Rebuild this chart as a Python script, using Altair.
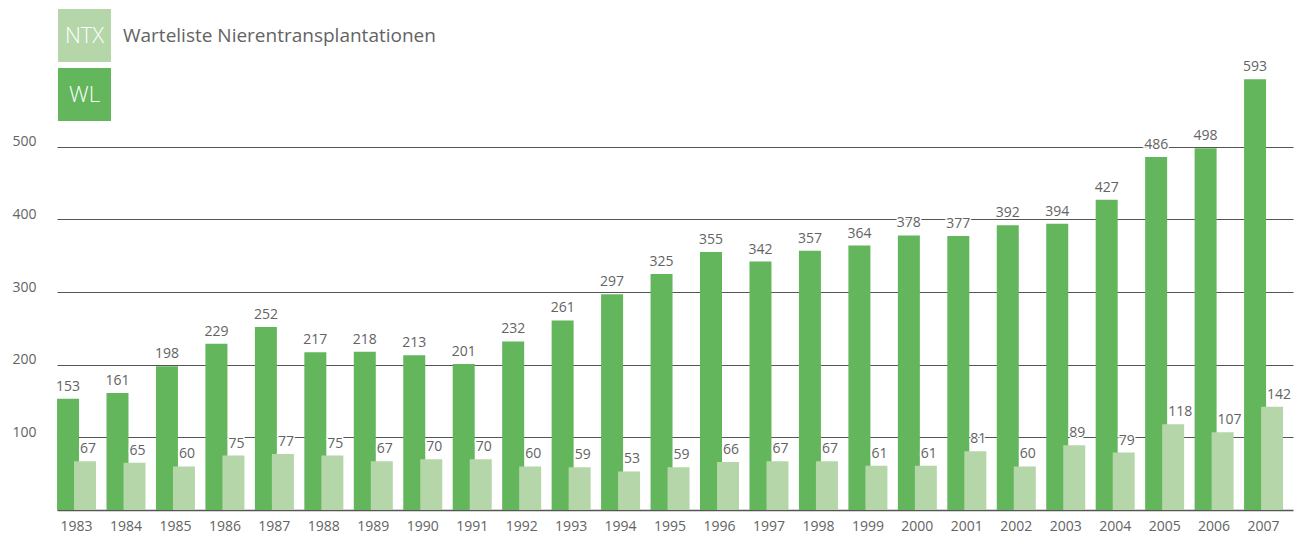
import altair as alt
import pandas as pd

years = [str(y) for y in range(1983, 2008)]
wl = [153, 161, 198, 229, 252, 217, 218, 213, 201, 232, 261, 297, 325, 355, 342,
      357, 364, 378, 377, 392, 394, 427, 486, 498, 593]
ntx = [67, 65, 60, 75, 77, 75, 67, 70, 70, 60, 59, 53, 59, 66, 67, 67, 61, 61,
       81, 60, 89, 79, 118, 107, 142]
y_ticks = [100, 200, 300, 400, 500]
title_text = "Warteliste Nierentransplantationen"
legend_labels = ["NTX", "WL"]

DARK = "#63b65c"
LIGHT = "#b4d6a8"
TXT = "#636363"
GRID = "#555555"
FONT = "Open Sans"

df = pd.DataFrame({"year": years, "WL": wl, "NTX": ntx})

xs = alt.Scale(paddingInner=0.21, paddingOuter=0.1, align=0)
ys = alt.Scale(domain=[0, 691], nice=False)

xenc = alt.X("year:N", scale=xs, sort=years,
             axis=alt.Axis(title=None, labelAngle=0, ticks=False, domainColor=GRID,
                           domainWidth=1.5, labelFontSize=14, labelColor=TXT,
                           labelFont=FONT, labelPadding=9, grid=False))

base = alt.Chart(df)

dark = base.mark_bar(width=22, xOffset=-8.5, color=DARK).encode(
    x=xenc,
    y=alt.Y("WL:Q", scale=ys,
            axis=alt.Axis(title=None, values=y_ticks, grid=True, gridColor=GRID,
                          gridWidth=1, domain=False, ticks=False, labelPadding=21,
                          labelFontSize=14, labelColor=TXT, labelFont=FONT,
                          labelOffset=-5)),
)
light = base.mark_bar(width=22, xOffset=8.5, color=LIGHT).encode(
    x=alt.X("year:N", sort=years), y=alt.Y("NTX:Q"))

def labels(field, off, align):
    enc = dict(x=alt.X("year:N", sort=years), y=alt.Y(f"{field}:Q"),
               text=alt.Text(f"{field}:Q"))
    halo = base.mark_text(xOffset=off, dy=-5, baseline="bottom", align=align,
                          fontSize=14, font=FONT, color="white", stroke="white",
                          strokeWidth=3).encode(**enc)
    txt = base.mark_text(xOffset=off, dy=-5, baseline="bottom", align=align,
                         fontSize=14, font=FONT, color=TXT).encode(**enc)
    return halo + txt

one = alt.Data(values=[{"a": 1}])
box_ntx = alt.Chart(one).mark_rect(color=LIGHT).encode(
    x=alt.value(1), x2=alt.value(54), y=alt.value(1), y2=alt.value(54))
box_wl = alt.Chart(one).mark_rect(color=DARK).encode(
    x=alt.value(1), x2=alt.value(54), y=alt.value(60), y2=alt.value(113))
t_ntx = alt.Chart(pd.DataFrame({"t": [legend_labels[0]]})).mark_text(
    color="white", fontSize=22, font=FONT, fontWeight=300, align="center",
    baseline="middle").encode(x=alt.value(27.5), y=alt.value(28), text="t:N")
t_wl = alt.Chart(pd.DataFrame({"t": [legend_labels[1]]})).mark_text(
    color="white", fontSize=22, font=FONT, fontWeight=300, align="center",
    baseline="middle").encode(x=alt.value(27.5), y=alt.value(87), text="t:N")
t_title = alt.Chart(pd.DataFrame({"t": [title_text]})).mark_text(
    color=TXT, fontSize=19, font=FONT, align="left", baseline="middle").encode(
    x=alt.value(66), y=alt.value(28), text="t:N")

chart = alt.layer(dark, light, labels("WL", -8.5, "center"), labels("NTX", 3.5, "left"),
                  box_ntx, box_wl, t_ntx, t_wl, t_title).properties(
    width=1236, height=502,
    autosize=alt.AutoSizeParams(type="none"),
    padding={"left": 49, "top": 0, "right": 2, "bottom": 29},
).configure_view(stroke=None)

chart.save("out.html", embed_options={"renderer": "svg", "actions": False})
